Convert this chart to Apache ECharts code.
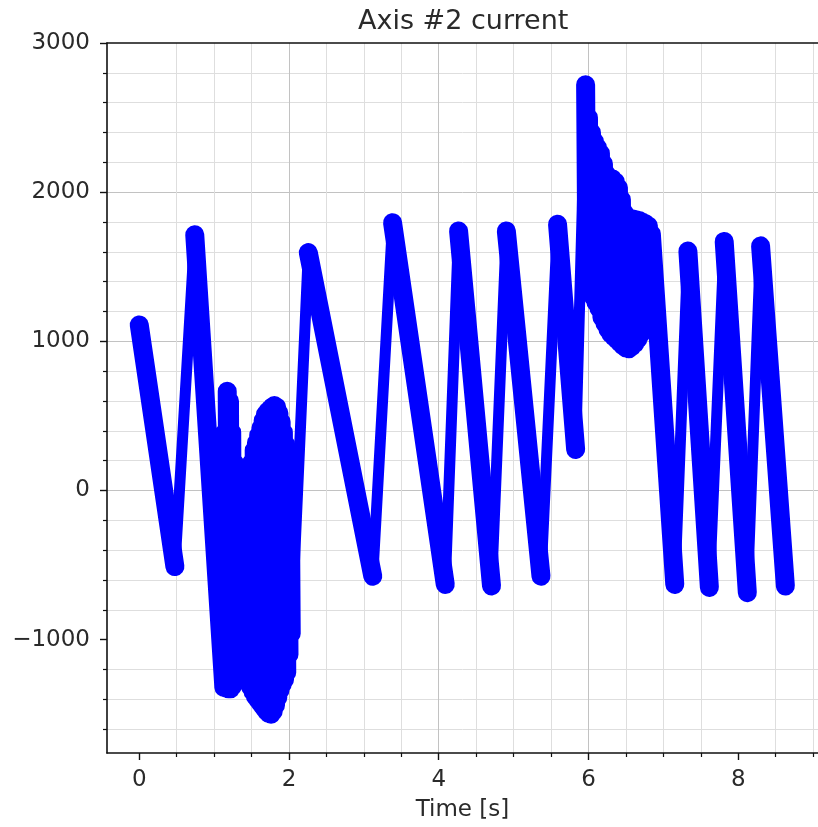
<!DOCTYPE html>
<html>
<head>
<meta charset="utf-8">
<title>Axis #2 current</title>
<script src="https://cdn.jsdelivr.net/npm/echarts@6/dist/echarts.min.js"></script>
<style>
  html, body { margin: 0; padding: 0; background: #ffffff; }
  #chart { width: 818px; height: 827px; }
</style>
</head>
<body>
<div id="chart"></div>
<script>
// Axis #2 motor current over time. The trace is kept as a polyline of
// turning points: clean sawtooth sweeps plus two noisy bursts.

// First sweep: start, first trough, first peak
const sweepA_t = [0.000, 0.476, 0.741];
const sweepA_i = [1110, -510, 1715];

// Noisy burst around t = 1.1 .. 2.0 s (alternating low / high readings)
const burst1_t = [1.130, 1.145, 1.160, 1.175, 1.190, 1.205, 1.220, 1.235, 1.250, 1.265,
                  1.280, 1.295, 1.310, 1.325, 1.340, 1.355, 1.370, 1.385, 1.400, 1.415,
                  1.430, 1.445, 1.460, 1.475, 1.490, 1.505, 1.520, 1.535, 1.550, 1.565,
                  1.580, 1.595, 1.610, 1.625, 1.640, 1.655, 1.670, 1.685, 1.700, 1.715,
                  1.730, 1.745, 1.760, 1.775, 1.790, 1.805, 1.820, 1.835, 1.850, 1.865,
                  1.880, 1.895, 1.910, 1.925, 1.940, 1.955, 1.970, 1.985, 2.000, 2.015,
                  2.030];
const burst1_i = [-1320, 390, -1325, 665, -1330, 600, -1330, 390, -1310, 190,
                  -1285, 30, -1240, -110, -1200, -170, -1180, -175, -1190, -120,
                  -1240, 20, -1280, 110, -1320, 190, -1350, 270, -1380, 320,
                  -1400, 370, -1420, 420, -1440, 470, -1460, 510, -1480, 530,
                  -1495, 545, -1500, 560, -1480, 570, -1440, 560, -1390, 520,
                  -1340, 460, -1300, 390, -1270, 310, -1220, 250, -1100, 190,
                  -960];

// Middle sweeps up to the 2.8 A spike
const sweepB_t = [2.258, 3.119, 3.383, 4.087, 4.265, 4.705, 4.903, 5.366, 5.587, 5.829, 5.962];
const sweepB_i = [1595, -575, 1795, -630, 1740, -640, 1740, -575, 1785, 275, 2720];

// Noisy burst after the spike, t = 6.0 .. 6.85 s
const burst2_t = [5.98, 6.00, 6.02, 6.04, 6.06, 6.08, 6.10, 6.12, 6.14, 6.16,
                  6.18, 6.20, 6.22, 6.24, 6.26, 6.28, 6.30, 6.32, 6.34, 6.36,
                  6.38, 6.40, 6.42, 6.44, 6.46, 6.48, 6.50, 6.52, 6.54, 6.56,
                  6.58, 6.60, 6.62, 6.64, 6.66, 6.68, 6.70, 6.72, 6.74, 6.76,
                  6.78, 6.80, 6.82, 6.84];
const burst2_i = [1410, 2500, 1340, 2400, 1300, 2340, 1260, 2300, 1220, 2260,
                  1160, 2190, 1120, 2120, 1080, 2100, 1050, 2090, 1030, 2070,
                  1010, 2030, 990, 1950, 970, 1860, 955, 1830, 950, 1825,
                  965, 1820, 985, 1815, 1015, 1810, 1050, 1800, 1090, 1790,
                  1150, 1775, 1220, 1720];

// Final sweeps
const sweepC_t = [7.153, 7.328, 7.615, 7.813, 8.122, 8.299, 8.630];
const sweepC_i = [-630, 1605, -650, 1670, -685, 1640, -640];

// Axis tick values
const xTickValues = [0, 2, 4, 6, 8];
const yTickValues = [-1000, 0, 1000, 2000, 3000];

// ---- build series data ----
const allT = [].concat(sweepA_t, burst1_t, sweepB_t, burst2_t, sweepC_t);
const allI = [].concat(sweepA_i, burst1_i, sweepB_i, burst2_i, sweepC_i);
const path = allT.map((t, k) => [t, allI[k]]);

// Falling stretches are noisier, so they get a wider stroke.
const falling = [];
for (let k = 0; k < path.length - 1; k++) {
  if (path[k + 1][1] < path[k][1]) {
    falling.push(path[k], path[k + 1], [path[k + 1][0], '-']);
  }
}

const FONT = 'DejaVu Sans';
const TXT = '#2a2a2a';
const SPINE = '#111111';
const BLUE = '#0000ff';

const minusFmt = v => (v < 0 ? '\u2212' + Math.abs(v) : String(v));

const chart = echarts.init(document.getElementById('chart'), null, { renderer: 'canvas' });

chart.setOption({
  animation: false,
  backgroundColor: '#ffffff',
  title: {
    text: 'Axis #2 current',
    left: 358,
    top: 8,
    padding: 0,
    textStyle: { fontFamily: FONT, fontSize: 27, fontWeight: 'normal', color: TXT }
  },
  grid: { left: 107, right: -7, top: 43, bottom: 74 },
  xAxis: [
    {
      type: 'value',
      min: -0.431,
      max: 9.066,
      name: 'Time [s]',
      nameLocation: 'middle',
      nameGap: 46,
      nameTextStyle: { fontFamily: FONT, fontSize: 23, color: TXT },
      axisLine: { show: true, onZero: false, lineStyle: { color: SPINE, width: 1.6 } },
      axisTick: { show: true, length: 7, customValues: xTickValues, lineStyle: { color: SPINE, width: 1.4 } },
      minorTick: { show: true, splitNumber: 4, length: 4, lineStyle: { color: SPINE, width: 1.2 } },
      axisLabel: {
        customValues: xTickValues,
        margin: 16, fontFamily: FONT, fontSize: 23, color: TXT, formatter: minusFmt
      },
      splitLine: { show: true, showMinLine: false, showMaxLine: false, lineStyle: { color: '#c2c2c2', width: 1 } },
      minorSplitLine: { show: true, lineStyle: { color: '#dedede', width: 1 } }
    },
    {
      // top spine
      type: 'value',
      position: 'top',
      min: -0.431,
      max: 9.066,
      axisLine: { show: true, onZero: false, lineStyle: { color: SPINE, width: 1.6 } },
      axisTick: { show: false },
      axisLabel: { show: false },
      splitLine: { show: false }
    }
  ],
  yAxis: {
    type: 'value',
    min: -1760,
    max: 3000,
    axisLine: { show: true, onZero: false, lineStyle: { color: SPINE, width: 1.6 } },
    axisTick: { show: true, length: 7, customValues: yTickValues, lineStyle: { color: SPINE, width: 1.4 } },
    minorTick: { show: true, splitNumber: 5, length: 4, lineStyle: { color: SPINE, width: 1.2 } },
    axisLabel: {
      customValues: yTickValues,
      margin: 17, fontFamily: FONT, fontSize: 23, color: TXT, formatter: minusFmt
    },
    splitLine: { show: true, showMinLine: false, showMaxLine: false, lineStyle: { color: '#c2c2c2', width: 1 } },
    minorSplitLine: { show: true, lineStyle: { color: '#dedede', width: 1 } }
  },
  series: [
    {
      name: 'current',
      type: 'line',
      data: path,
      symbol: 'none',
      lineStyle: { color: BLUE, width: 11, cap: 'round', join: 'round' },
      z: 3
    },
    {
      name: 'current (falling)',
      type: 'line',
      data: falling,
      symbol: 'none',
      connectNulls: false,
      lineStyle: { color: BLUE, width: 19, cap: 'round', join: 'round' },
      z: 3
    }
  ]
});
</script>
</body>
</html>
